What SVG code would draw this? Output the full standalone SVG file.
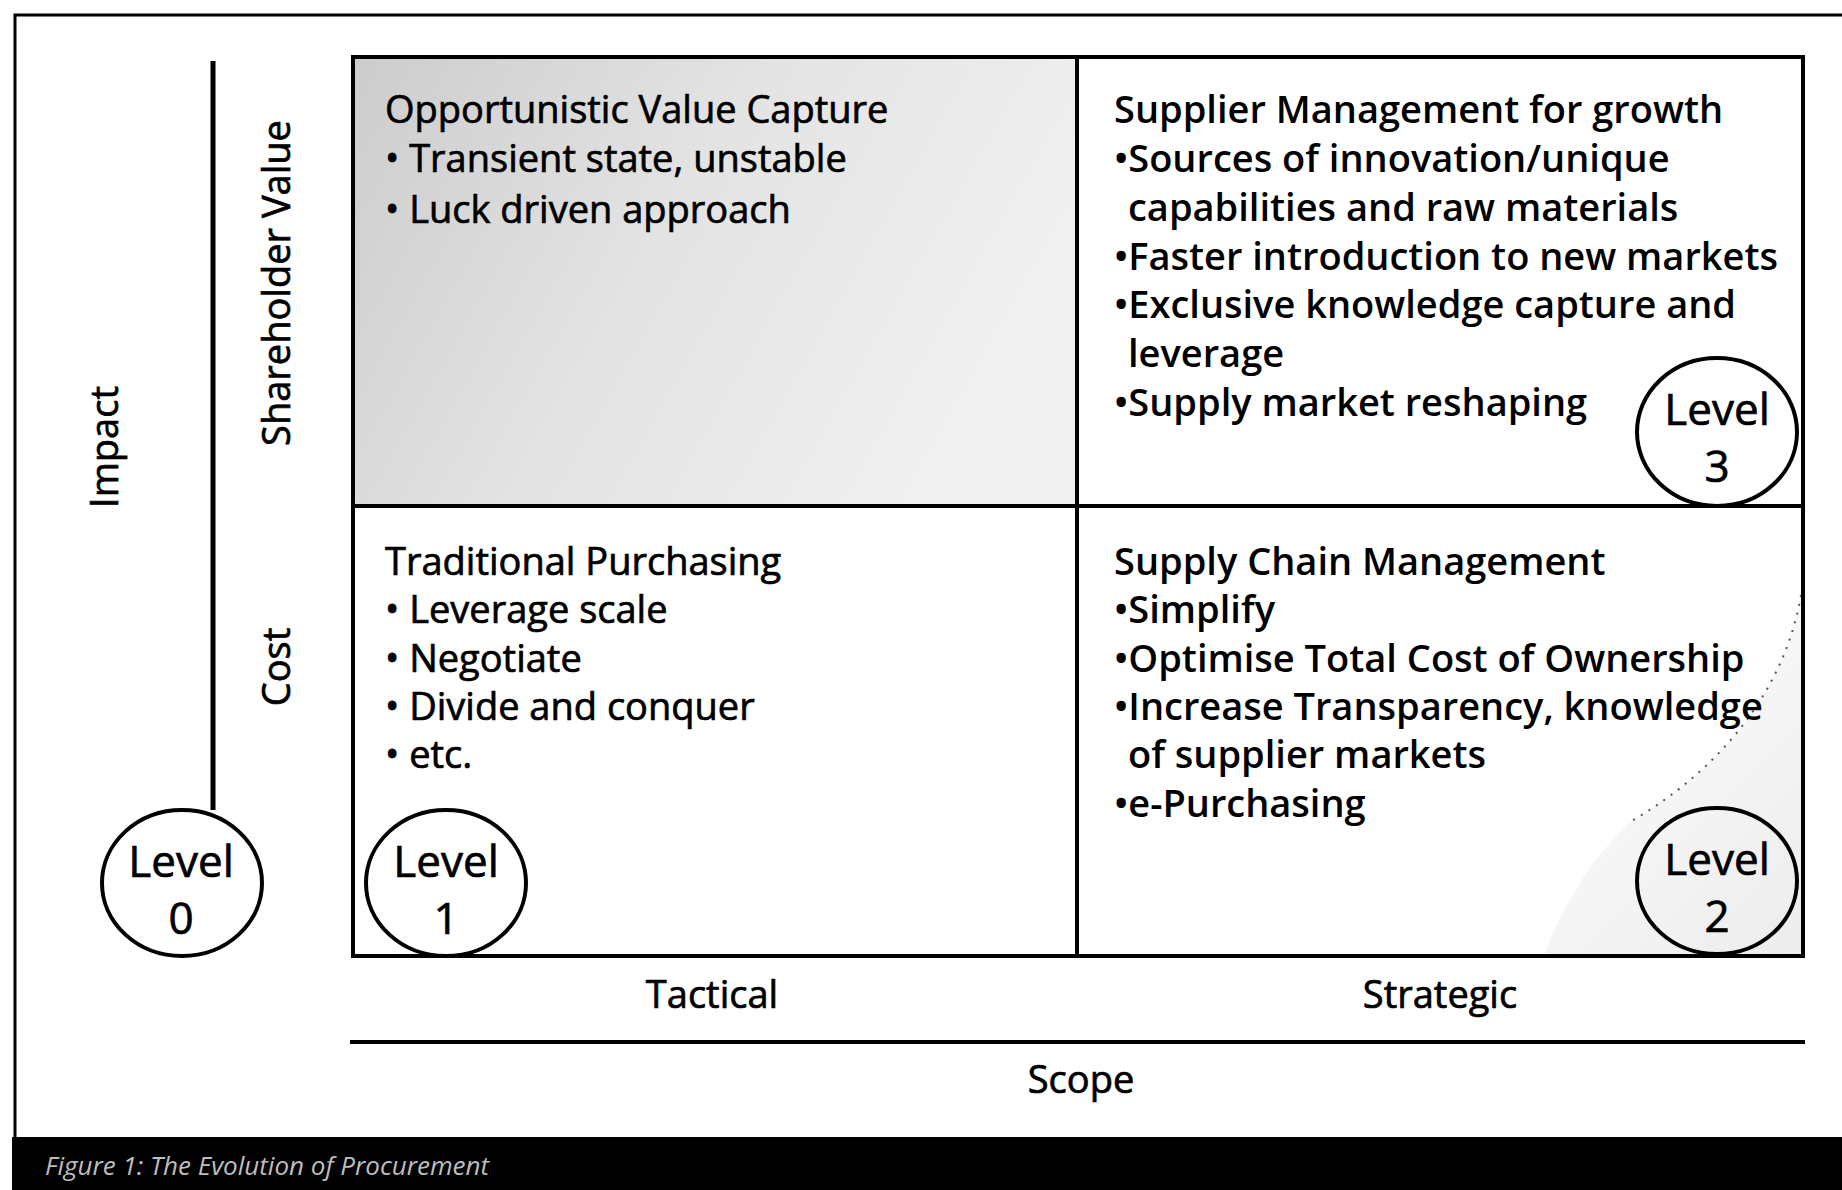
<svg xmlns="http://www.w3.org/2000/svg" width="1842" height="1190" viewBox="0 0 1842 1190">
  <defs>
    <!-- soft grey wash for the "opportunistic" cell, darker on the left -->
    <linearGradient id="shadeTL" x1="0" y1="0" x2="1" y2="0.35">
      <stop offset="0" stop-color="#cccccc"/>
      <stop offset="0.5" stop-color="#e3e3e3"/>
      <stop offset="1" stop-color="#f0f0f0"/>
    </linearGradient>
    <linearGradient id="shadeBR" x1="1" y1="1" x2="0.4" y2="0.2">
      <stop offset="0" stop-color="#ececec"/>
      <stop offset="1" stop-color="#fafafa"/>
    </linearGradient>
  </defs>
  <style>
    .t{font-family:"Open Sans","Noto Sans","Liberation Sans",sans-serif;font-size:38px;fill:#000}
    .m{stroke:#000;stroke-width:0.7}
    .b{font-weight:600}
    .lvl{font-size:44px;text-anchor:middle}
    .mid{text-anchor:middle}
    .cell{stroke:#000;stroke-width:4}
    .ring{fill:none;stroke:#000;stroke-width:4}
    .axis{fill:none;stroke:#000;stroke-linecap:butt}
    .cap{font-family:"Open Sans","Noto Sans","Liberation Sans",sans-serif;font-style:italic;font-size:26px;fill:#bdbdbd}
  </style>

  <!-- page -->
  <rect width="1842" height="1190" fill="#fff"/>
  <path d="M15,1138 V15 H1842" fill="none" stroke="#000" stroke-width="3"/>

  <!-- caption bar -->
  <g id="caption">
    <rect x="12" y="1137" width="1830" height="53" fill="#000"/>
    <text class="cap" x="45" y="1175">Figure 1: The Evolution of Procurement</text>
  </g>

  <!-- quadrants -->
  <g id="q-opportunistic">
    <rect class="cell" x="353" y="57" width="724" height="449" fill="url(#shadeTL)"/>
    <text class="t m" x="385" y="123">Opportunistic Value Capture</text>
    <text class="t m" x="385" y="172">• Transient state, unstable</text>
    <text class="t m" x="385" y="223">• Luck driven approach</text>
  </g>

  <g id="q-supplier-management">
    <rect class="cell" x="1077" y="57" width="726" height="449" fill="#fff"/>
    <text class="t b" x="1114" y="123">Supplier Management for growth</text>
    <text class="t b" x="1114" y="172">•Sources of innovation/unique</text>
    <text class="t b" x="1128" y="221">capabilities and raw materials</text>
    <text class="t b" x="1114" y="270">•Faster introduction to new markets</text>
    <text class="t b" x="1114" y="318">•Exclusive knowledge capture and</text>
    <text class="t b" x="1128" y="367">leverage</text>
    <text class="t b" x="1114" y="416">•Supply market reshaping</text>
  </g>

  <g id="q-traditional">
    <rect class="cell" x="353" y="506" width="724" height="450" fill="#fff"/>
    <text class="t m" x="385" y="575">Traditional Purchasing</text>
    <text class="t m" x="385" y="623">• Leverage scale</text>
    <text class="t m" x="385" y="672">• Negotiate</text>
    <text class="t m" x="385" y="720">• Divide and conquer</text>
    <text class="t m" x="385" y="768">• etc.</text>
  </g>

  <g id="q-supply-chain">
    <rect class="cell" x="1077" y="506" width="726" height="450" fill="#fff"/>
    <path d="M1801,595 C1785,690 1720,770 1630,822 C1590,860 1560,910 1545,954 L1801,954 Z" fill="url(#shadeBR)"/>
    <path d="M1801,595 C1785,690 1720,770 1630,822" fill="none" stroke="#555" stroke-width="2" stroke-dasharray="2 7"/>
    <rect x="1077" y="506" width="726" height="450" fill="none" stroke="#000" stroke-width="4"/>
    <text class="t b" x="1114" y="575">Supply Chain Management</text>
    <text class="t b" x="1114" y="623">•Simplify</text>
    <text class="t b" x="1114" y="672">•Optimise Total Cost of Ownership</text>
    <text class="t b" x="1114" y="720">•Increase Transparency, knowledge</text>
    <text class="t b" x="1128" y="768">of supplier markets</text>
    <text class="t b" x="1114" y="817">•e-Purchasing</text>
  </g>

  <!-- maturity levels -->
  <g id="level-0">
    <ellipse class="ring" cx="182" cy="883" rx="80" ry="73" fill="#fff"/>
    <text class="t lvl m" x="181" y="877">Level</text>
    <text class="t lvl m" x="181" y="934">0</text>
  </g>
  <g id="level-1">
    <ellipse class="ring" cx="446" cy="883" rx="80" ry="73"/>
    <text class="t lvl m" x="446" y="877">Level</text>
    <text class="t lvl m" x="446" y="934">1</text>
  </g>
  <g id="level-2">
    <ellipse class="ring" cx="1717" cy="881" rx="80" ry="73"/>
    <text class="t lvl m" x="1717" y="875">Level</text>
    <text class="t lvl m" x="1717" y="932">2</text>
  </g>
  <g id="level-3">
    <ellipse class="ring" cx="1717" cy="432" rx="80" ry="74"/>
    <text class="t lvl m" x="1717" y="425">Level</text>
    <text class="t lvl m" x="1717" y="482">3</text>
  </g>

  <!-- axis titles -->
  <g id="label-impact">
    <text class="t mid m" font-size="36" transform="translate(118,447) rotate(-90)">Impact</text>
  </g>
  <g id="label-shareholder-value">
    <text class="t mid m" font-size="37" transform="translate(290,283) rotate(-90)">Shareholder Value</text>
  </g>
  <g id="label-cost">
    <text class="t mid m" font-size="37" transform="translate(290,667) rotate(-90)">Cost</text>
  </g>
  <g id="label-tactical">
    <text class="t mid m" x="712" y="1008">Tactical</text>
  </g>
  <g id="label-strategic">
    <text class="t mid m" x="1440" y="1008">Strategic</text>
  </g>
  <g id="label-scope">
    <text class="t mid m" x="1081" y="1093">Scope</text>
  </g>

  <!-- axes -->
  <g id="connectors">
    <path class="axis" d="M213,61 V810" stroke-width="5"/>
    <path class="axis" d="M350,1042 H1805" stroke-width="4"/>
  </g>
</svg>
